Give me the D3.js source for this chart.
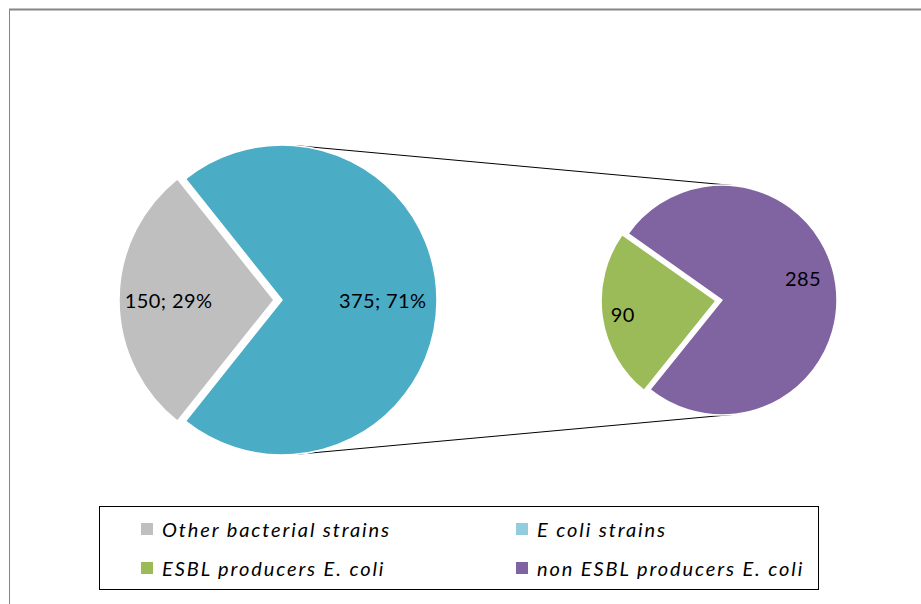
<!DOCTYPE html>
<html>
<head>
<meta charset="utf-8">
<script src="https://cdn.jsdelivr.net/npm/d3@7"></script>
<style>
  html, body { margin: 0; padding: 0; background: #fff; }
  svg { display: block; }
  text { font-family: Lato, "Open Sans", sans-serif; fill: #000; }
</style>
</head>
<body>
<svg id="chart" width="921" height="604"></svg>
<script>
// Main pie: all isolates
const mainCategories = ["Other bacterial strains", "E coli strains"];
const mainValues = [150, 375];
const mainLabels = ["150; 29%", "375; 71%"];

// Secondary pie: breakdown of the E. coli isolates
const subCategories = ["ESBL producers E. coli", "non ESBL producers E. coli"];
const subValues = [90, 285];
const subLabels = ["90", "285"];

const mainColors = ["#BFBFBF", "#4BACC6"];
const subColors = ["#9BBB59", "#8064A2"];
const legendColors = ["#BFBFBF", "#93CDDD", "#9BBB59", "#8064A2"];

const W = 921, H = 604;
const svg = d3.select("#chart");

// outer frame (top and left edges)
svg.append("line").attr("x1", 9).attr("x2", W).attr("y1", 9.5).attr("y2", 9.5)
  .attr("stroke", "#858585").attr("stroke-width", 2);
svg.append("line").attr("x1", 9.5).attr("x2", 9.5).attr("y1", 9).attr("y2", H)
  .attr("stroke", "#858585").attr("stroke-width", 1);

const deg = Math.PI / 180;

// geometry of the two pies
const main = { cx: 282, cy: 300, r: 155 };
const sub = { cx: 722, cy: 300, r: 115 };

// connector lines: outer tangents of both circles
(function drawConnectors() {
  const d = sub.cx - main.cx;
  const a = Math.asin((main.r - sub.r) / d);
  [-1, 1].forEach(s => {
    const x1 = main.cx + main.r * Math.sin(a), y1 = main.cy + s * main.r * Math.cos(a);
    const x2 = sub.cx + sub.r * Math.sin(a), y2 = sub.cy + s * sub.r * Math.cos(a);
    svg.append("line").attr("x1", x1).attr("y1", y1).attr("x2", x2).attr("y2", y2)
      .attr("stroke", "#000").attr("stroke-width", 1);
  });
})();

// draw a pie whose first slice is pulled out along its bisector
function drawPie(cfg, values, colors, labels, centerAngle, explode, labelPos) {
  const total = d3.sum(values);
  const span0 = values[0] / total * 2 * Math.PI;
  const start = centerAngle - span0 / 2;
  const pie = d3.pie().sort(null).startAngle(start).endAngle(start + 2 * Math.PI);
  const arcs = pie(values);
  const arc = d3.arc().innerRadius(0).outerRadius(cfg.r);
  const g = svg.append("g").attr("transform", `translate(${cfg.cx},${cfg.cy})`);

  arcs.forEach((a, i) => {
    const mid = (a.startAngle + a.endAngle) / 2;
    const off = i === 0 ? explode : 0;
    const dx = off * Math.sin(mid), dy = -off * Math.cos(mid);
    const sg = g.append("g").attr("transform", `translate(${dx},${dy})`);
    sg.append("path").attr("d", arc(a)).attr("fill", colors[i])
      .attr("stroke", "#fff").attr("stroke-width", 1.5).attr("stroke-linejoin", "round");
    const lr = cfg.r * labelPos[i].r;
    const la = labelPos[i].a !== undefined ? labelPos[i].a * deg : mid;
    sg.append("text")
      .attr("x", lr * Math.sin(la)).attr("y", -lr * Math.cos(la))
      .attr("text-anchor", "middle").attr("dominant-baseline", "central")
      .style("font-size", "20px").style("letter-spacing", "0.4px")
      .text(labels[i]);
  });
}

drawPie(main, mainValues, mainColors, mainLabels, 270 * deg, 8,
  [{ r: 0.68 }, { r: 0.65 }]);
drawPie(sub, subValues, subColors, subLabels, 262 * deg, 6,
  [{ r: 0.82 }, { r: 0.73, a: 75 }]);

// legend
const legend = { x: 99.5, y: 506.5, w: 719, h: 83 };
svg.append("rect").attr("x", legend.x).attr("y", legend.y)
  .attr("width", legend.w).attr("height", legend.h)
  .attr("fill", "#fff").attr("stroke", "#000").attr("stroke-width", 1);

const legendNames = [mainCategories[0], mainCategories[1], subCategories[0], subCategories[1]];
const colX = [141, 516];
const rowY = [529, 568];
legendNames.forEach((name, i) => {
  const x = colX[i % 2], y = rowY[Math.floor(i / 2)];
  svg.append("rect").attr("x", x).attr("y", y - 6).attr("width", 12).attr("height", 12)
    .attr("fill", legendColors[i]);
  svg.append("text").attr("x", x + 21).attr("y", y)
    .attr("dominant-baseline", "central")
    .style("font-size", "20px").style("font-style", "italic")
    .style("letter-spacing", "1.9px")
    .text(name);
});
</script>
</body>
</html>
